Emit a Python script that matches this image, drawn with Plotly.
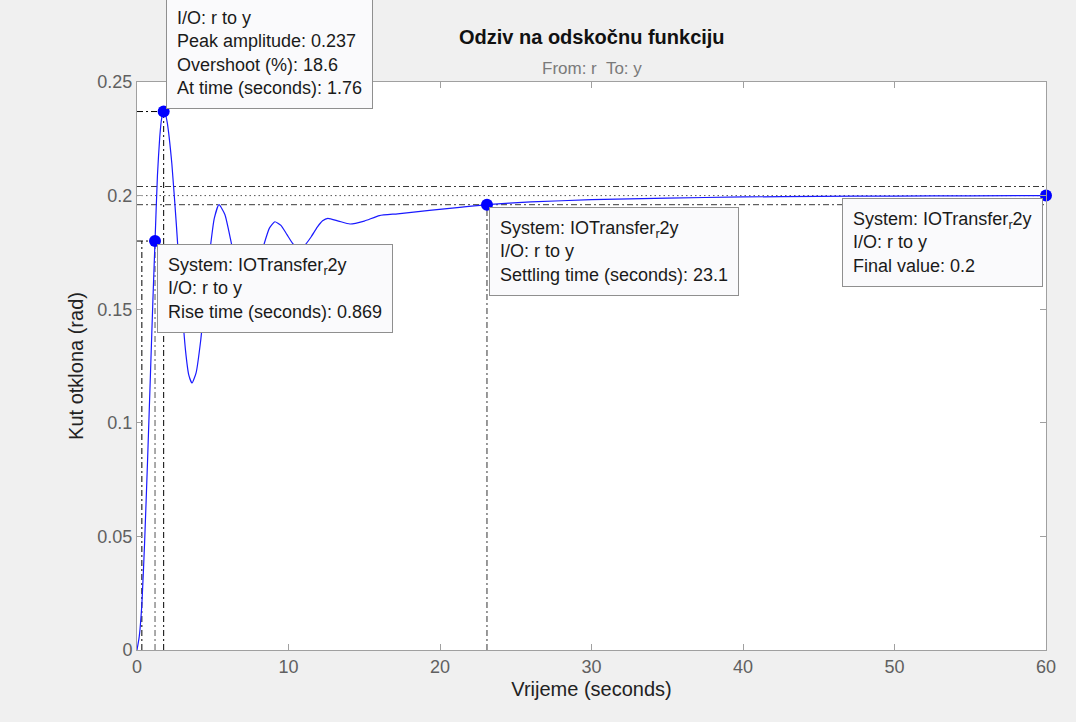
import plotly.graph_objects as go

# ---- data ----
time_s = [0, 0.15, 0.32, 0.5, 0.7, 0.9, 1.05, 1.19, 1.35, 1.5, 1.62, 1.76, 1.9, 2.0,
          2.3, 2.6, 2.9, 3.2, 3.42, 3.63, 3.9, 4.2, 4.5, 4.8, 5.1, 5.41, 5.8, 6.2,
          6.6, 7.0, 7.23, 7.6, 8.0, 8.4, 8.75, 9.1, 9.5, 9.9, 10.3, 10.7, 11.1,
          11.5, 11.9, 12.25, 12.6, 13.3, 14.06, 15.0, 16.0, 17.2, 19.3, 21.3,
          23.1, 26, 30, 35, 40, 45, 50, 55, 60]
response_rad = [0, 0.006, 0.02, 0.047, 0.084, 0.124, 0.154, 0.18, 0.209, 0.2257,
                0.2337, 0.237, 0.2352, 0.232, 0.214, 0.187, 0.157, 0.132, 0.121,
                0.1175, 0.122, 0.136, 0.156, 0.175, 0.190, 0.196, 0.1917, 0.180,
                0.1674, 0.1585, 0.157, 0.160, 0.1686, 0.1789, 0.1858, 0.1885,
                0.1869, 0.1828, 0.1787, 0.177, 0.1784, 0.1819, 0.1861, 0.1889,
                0.190, 0.1888, 0.1875, 0.1888, 0.1912, 0.1920, 0.1935, 0.1948,
                0.196, 0.1972, 0.1982, 0.1989, 0.1994, 0.1997, 0.1998, 0.1999, 0.2]

final_value = 0.2
peak_time = 1.76
peak_amplitude = 0.237
overshoot_pct = 18.6
rise_start = 0.32
rise_end = 1.19
rise_level = 0.18
rise_time = 0.869
settling_time = 23.1
settling_level = 0.196
band_upper = 0.204
band_lower = 0.196
t_end = 60

x_ticks = [0, 10, 20, 30, 40, 50, 60]
x_tick_labels = ["0", "10", "20", "30", "40", "50", "60"]
y_ticks = [0, 0.05, 0.1, 0.15, 0.2, 0.25]
y_tick_labels = ["0", "0.05", "0.1", "0.15", "0.2", "0.25"]

title_text = "Odziv na odskočnu funkciju"
subtitle_text = "From: r  To: y"
x_title = "Vrijeme (seconds)"
y_title = "Kut otklona (rad)"
system_label = "System: IOTransfer<sub>r</sub>2y"

FONT = "Liberation Sans, Arial, Helvetica, sans-serif"
DASHDOT = "6px,3px,2px,3px"

fig = go.Figure()

def ref_line(xs, ys, color="black", dash=DASHDOT):
    fig.add_trace(go.Scatter(x=xs, y=ys, mode="lines", hoverinfo="skip",
                             line=dict(color=color, width=1, dash=dash),
                             showlegend=False))

# settling band and final value
ref_line([0, t_end], [band_upper, band_upper], "#3a3a3a")
ref_line([0, t_end], [band_lower, band_lower], "#3a3a3a")
ref_line([0, t_end], [final_value, final_value], "#555555", "1.5px,3px")
# peak
ref_line([0, peak_time], [peak_amplitude, peak_amplitude])
ref_line([peak_time, peak_time], [0, peak_amplitude])
# rise
ref_line([0, rise_end], [rise_level, rise_level])
ref_line([rise_start, rise_start], [0, rise_level])
ref_line([rise_end, rise_end], [0, rise_level], "#555555")
# settling
ref_line([settling_time, settling_time], [0, settling_level], "#333333")

# response curve
fig.add_trace(go.Scatter(x=time_s, y=response_rad, mode="lines",
                         line=dict(color="#1a1aff", width=1.2, shape="spline", smoothing=0.5),
                         hoverinfo="skip", showlegend=False))

# characteristic points
fig.add_trace(go.Scatter(x=[rise_end, peak_time, settling_time, t_end],
                         y=[rise_level, peak_amplitude, settling_level, final_value],
                         mode="markers", cliponaxis=False,
                         marker=dict(color="#0000ff", size=12),
                         hoverinfo="skip", showlegend=False))

box = dict(font=dict(family=FONT, size=18, color="#1a1a1a"),
           bgcolor="#fafafc", bordercolor="#8f8f8f", borderwidth=1, borderpad=10,
           align="left", showarrow=False, xref="x", yref="y")

# peak datatip: its first line lies above the top edge of the window in the reference
fig.add_annotation(x=peak_time, y=peak_amplitude, xanchor="left", yanchor="bottom",
                   xshift=2, yshift=3,
                   text=(f"I/O: r to y<br>Peak amplitude: {peak_amplitude}"
                         f"<br>Overshoot (%): {overshoot_pct}<br>At time (seconds): {peak_time}"),
                   **box)
fig.add_annotation(x=rise_end, y=rise_level, xanchor="left", yanchor="top",
                   xshift=2, yshift=-3,
                   text=f"{system_label}<br>I/O: r to y<br>Rise time (seconds): {rise_time}",
                   **box)
fig.add_annotation(x=settling_time, y=settling_level, xanchor="left", yanchor="top",
                   xshift=2, yshift=-2,
                   text=f"{system_label}<br>I/O: r to y<br>Settling time (seconds): {settling_time}",
                   **box)
fig.add_annotation(x=t_end, y=final_value, xanchor="right", yanchor="top",
                   xshift=-3, yshift=-2,
                   text=f"{system_label}<br>I/O: r to y<br>Final value: {final_value}",
                   **box)

# title and subtitle
fig.add_annotation(x=0.5, y=1.079, xref="paper", yref="paper", showarrow=False,
                   xanchor="center", yanchor="middle",
                   text=f"<b>{title_text}</b>",
                   font=dict(family=FONT, size=20, color="#111111"))
fig.add_annotation(x=0.5, y=1.0246, xref="paper", yref="paper", showarrow=False,
                   xanchor="center", yanchor="middle", text=subtitle_text,
                   font=dict(family=FONT, size=17, color="#7a7a7a"))

axis_common = dict(showgrid=False, zeroline=False, showline=True, linecolor="#a0a0a0",
                   linewidth=1, mirror="ticks", ticks="inside", ticklen=6,
                   tickcolor="#a0a0a0", tickfont=dict(family=FONT, size=18, color="#606060"))

fig.update_xaxes(range=[0, t_end], tickvals=x_ticks, ticktext=x_tick_labels,
                 title=dict(text=x_title, standoff=6,
                            font=dict(family=FONT, size=20, color="#222222")),
                 **axis_common)
fig.update_yaxes(range=[0, 0.25], tickvals=y_ticks, ticktext=y_tick_labels,
                 title=dict(text=y_title, standoff=8,
                            font=dict(family=FONT, size=20, color="#222222")),
                 **axis_common)

fig.update_layout(width=1076, height=722,
                  margin=dict(l=137, r=30, t=82, b=72, autoexpand=False),
                  paper_bgcolor="#f0f0f0", plot_bgcolor="white",
                  showlegend=False, hovermode=False)

fig.write_html("out.html",
               config={"displayModeBar": False},
               post_script="document.body.style.margin='0';"
                           "document.body.style.overflow='hidden';"
                           "document.body.style.background='#f0f0f0';")
